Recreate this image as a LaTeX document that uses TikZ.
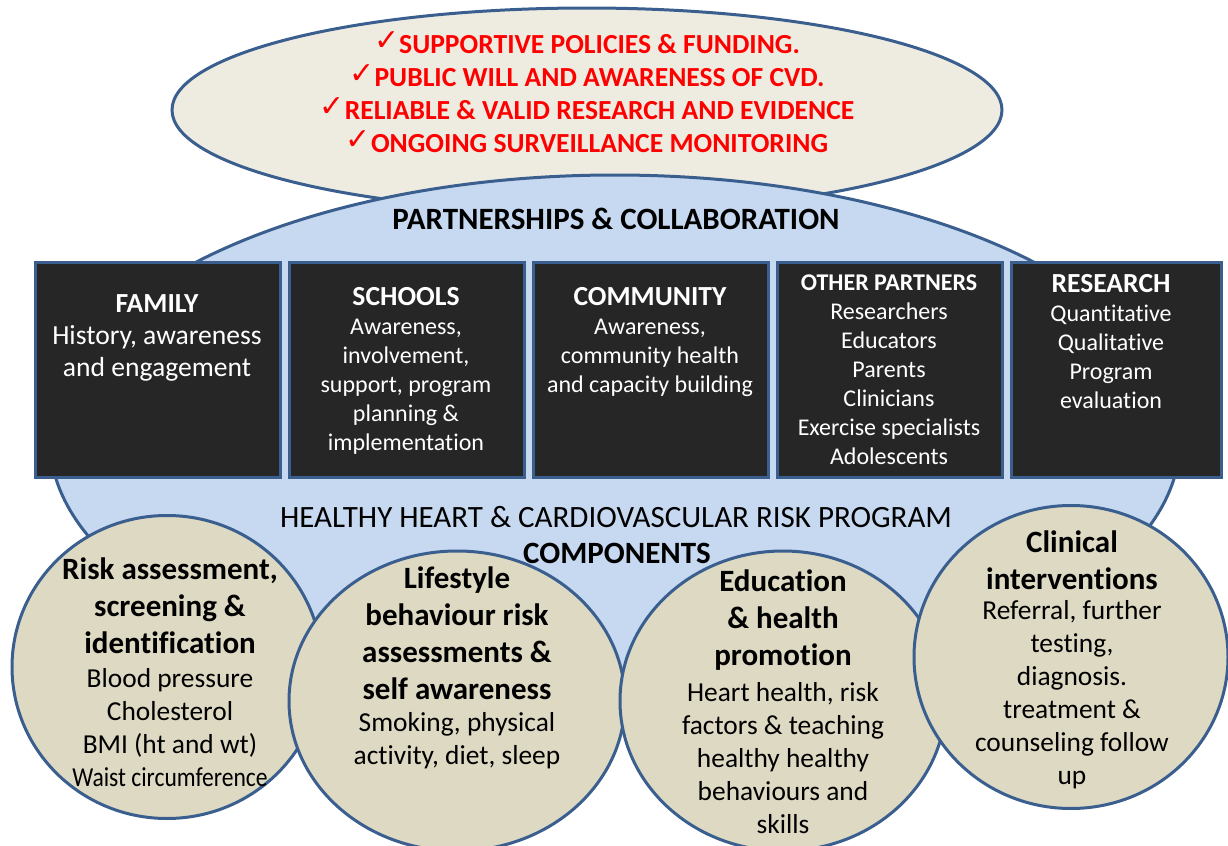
\documentclass[tikz,border=0pt]{standalone}
\usepackage{xcolor}
\usepackage{fontspec}
\setmainfont{Carlito}[Ligatures=NoCommon]
\newfontfamily\symfont{DejaVu Sans}
\usetikzlibrary{shapes.geometric,positioning}

\definecolor{edgeblue}{HTML}{3A5F8F}
\definecolor{topfill}{HTML}{EEECE1}
\definecolor{bluefill}{HTML}{C6D9F1}
\definecolor{circfill}{HTML}{DDD9C3}
\definecolor{boxgrey}{HTML}{262626}

\newcommand{\goalmark}{\raisebox{1.5pt}{\symfont\mdseries\fontsize{15}{15}\selectfont ✓}}
\newcommand{\parthead}[1]{{\fontsize{13.8}{14.5}\selectfont\bfseries #1}}

\begin{document}
\begin{tikzpicture}[
		x = 0.5pt, y = -0.5pt,
		outline/.style = {draw=edgeblue, line width=1.5pt},
		partner/.style = {outline, fill=boxgrey, minimum height=107.5pt, inner sep=0pt, outer sep=0pt},
		partnertext/.style = {text=white, align=center, inner sep=0pt, font=\fontsize{12}{14.5}\selectfont},
		component/.style = {outline, ellipse, fill=circfill, inner sep=0pt},
		comptitle/.style = {align=center, inner sep=0pt, font=\fontsize{15.5}{18.5}\selectfont\bfseries},
		compbody/.style = {align=center, inner sep=0pt, font=\fontsize{13.7}{16.5}\selectfont},
	]

	\useasboundingbox (0,0) rectangle (1228,846);

	\node[outline, ellipse, fill=topfill, minimum width=415pt, minimum height=102pt] (goals) at (587,110) {};
	\node[outline, ellipse, fill=bluefill, minimum width=565pt, minimum height=265pt] (program) at (615,440) {};

	\node[align=center, text=red, inner sep=0pt, font=\fontsize{13.8}{16.5}\selectfont\bfseries] (goaltext) at (587,92)
		{\goalmark SUPPORTIVE POLICIES \& FUNDING.\\
		 \goalmark PUBLIC WILL AND AWARENESS OF CVD.\\
		 \goalmark RELIABLE \& VALID RESEARCH AND EVIDENCE\\
		 \goalmark ONGOING SURVEILLANCE MONITORING};

	\node[font=\fontsize{15.5}{18}\selectfont\bfseries, inner sep=0pt] (partnerships) at (616,219) {PARTNERSHIPS \& COLLABORATION};

	\node[partner, minimum width=122.5pt] (family) at (157.5,369.5) {};
	\node[partner, minimum width=117.5pt, right=4.5pt of family] (schools) {};
	\node[partner, minimum width=117.5pt, right=4.5pt of schools] (community) {};
	\node[partner, minimum width=112.5pt, right=4.5pt of community] (others) {};
	\node[partner, minimum width=105pt, right=4.5pt of others] (research) {};

	\node[partnertext, font=\fontsize{13.8}{16}\selectfont] (familytext) at (157,338)
		{{\bfseries FAMILY}\\History, awareness\\and engagement};
	\node[partnertext] (schoolstext) at (406,371)
		{\parthead{SCHOOLS}\\Awareness,\\involvement,\\support, program\\planning \&\\implementation};
	\node[partnertext] (communitytext) at (650,342)
		{\parthead{COMMUNITY}\\Awareness,\\community health\\and capacity building};
	\node[partnertext] (otherstext) at (889,370)
		{{\fontsize{12}{14.5}\selectfont\bfseries OTHER PARTNERS}\\Researchers\\Educators\\Parents\\Clinicians\\Exercise specialists\\Adolescents};
	\node[partnertext] (researchtext) at (1111,342)
		{\parthead{RESEARCH}\\Quantitative\\Qualitative\\Program\\evaluation};

	\node[component, minimum width=155pt, minimum height=151.5pt] (screening) at (167,667) {};
	\node[component, minimum width=168pt, minimum height=150pt] (lifestyle) at (457,701) {};
	\node[component, minimum width=163pt, minimum height=150pt] (education) at (783,701) {};
	\node[component, minimum width=157pt, minimum height=151.5pt] (clinical) at (1071,657) {};

	\node[font=\fontsize{15.5}{18}\selectfont, inner sep=0pt] (programname) at (616,517) {HEALTHY HEART \& CARDIOVASCULAR RISK PROGRAM};
	\node[font=\fontsize{15.5}{18}\selectfont\bfseries, inner sep=0pt] (components) at (617,553) {COMPONENTS};

	\node[comptitle] (screeningtitle) at (170,606) {Risk assessment,\\screening \&\\identification};
	\node[compbody] (screeningbody) at (170,728)
		{Blood pressure\\Cholesterol\\BMI (ht and wt)\\\scalebox{0.86}[1]{Waist circumference}};

	\node[comptitle] (lifestyletitle) at (457,633) {Lifestyle\\behaviour risk\\assessments \&\\self awareness};
	\node[compbody] (lifestylebody) at (457,741) {Smoking, physical\\activity, diet, sleep};

	\node[comptitle] (educationtitle) at (783,620) {Education\\\& health\\promotion};
	\node[compbody] (educationbody) at (783,758)
		{Heart health, risk\\factors \& teaching\\healthy healthy\\behaviours and\\skills};

	\node[comptitle] (clinicaltitle) at (1072,560) {Clinical\\interventions};
	\node[compbody] (clinicalbody) at (1072,695)
		{Referral, further\\testing,\\diagnosis.\\treatment \&\\counseling follow\\up};

\end{tikzpicture}
\end{document}
